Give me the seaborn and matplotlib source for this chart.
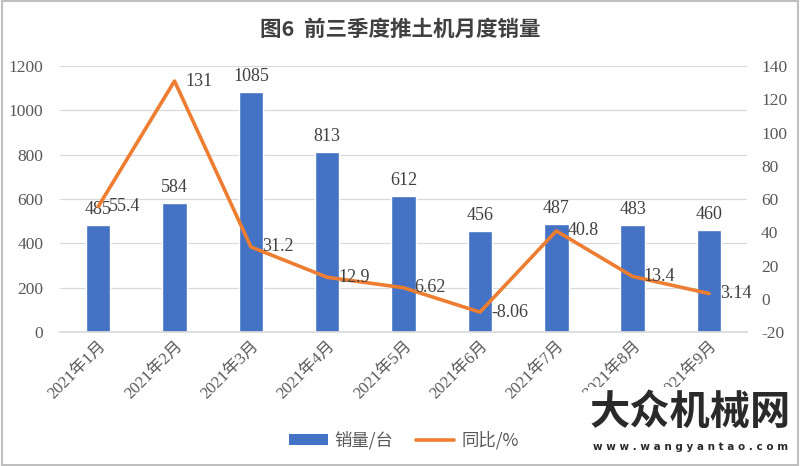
import numpy as np
import pandas as pd
import matplotlib
matplotlib.use("Agg")
import matplotlib.pyplot as plt
from matplotlib.patches import Rectangle, Patch
from matplotlib.lines import Line2D
import seaborn as sns

# ---- data ----
months = ["2021年1月", "2021年2月", "2021年3月", "2021年4月", "2021年5月",
          "2021年6月", "2021年7月", "2021年8月", "2021年9月"]
sales = [485, 584, 1085, 813, 612, 456, 487, 483, 460]
yoy = [55.4, 131, 31.2, 12.9, 6.62, -8.06, 40.8, 13.4, 3.14]
yoy_text = ["55.4", "131", "31.2", "12.9", "6.62", "-8.06", "40.8", "13.4", "3.14"]

BLUE = "#4472C4"
ORANGE = "#ED7D31"
GRAY = "#595959"

sns.set_theme(style="white")
plt.rcParams["font.family"] = ["Liberation Serif", "Noto Sans CJK SC", "DejaVu Sans"]
plt.rcParams["axes.unicode_minus"] = False

df = pd.DataFrame({"month": months, "sales": sales, "yoy": yoy, "pos": np.arange(len(months))})

fig = plt.figure(figsize=(8, 4.66), dpi=100)
ax = fig.add_axes([0.075, 0.2876, 0.859, 0.5706])

# bars: monthly sales (left axis)
sns.barplot(data=df, x="month", y="sales", color=BLUE, width=0.32,
            saturation=1, ax=ax)
ax.set_ylim(0, 1200)
ax.set_yticks(range(0, 1201, 200))
ax.set_xlim(-0.5, len(months) - 0.5)
ax.yaxis.grid(True, color="#d9d9d9", lw=0.9)
ax.set_axisbelow(True)
for s in ax.spines.values():
    s.set_visible(False)
ax.spines["bottom"].set_visible(True)
ax.spines["bottom"].set_color("#d9d9d9")
ax.set_xlabel("")
ax.set_ylabel("")
ax.tick_params(axis="y", length=0, labelsize=12.5, labelcolor=GRAY, pad=12)
ax.tick_params(axis="x", length=0, labelsize=12, labelcolor=GRAY, pad=4)
plt.setp(ax.get_xticklabels(), rotation=45, ha="right", rotation_mode="anchor")

for i, v in enumerate(sales):
    ax.annotate(str(v), (i, v), xytext=(0, 5), textcoords="offset points",
                ha="center", va="bottom", fontsize=13, color="#404040")

# line: year-on-year change (right axis)
ax2 = ax.twinx()
sns.lineplot(data=df, x="pos", y="yoy", color=ORANGE, lw=2.6, ax=ax2)
ax2.set_ylim(-20, 140)
ax2.set_yticks(range(-20, 141, 20))
ax2.set_xlim(-0.5, len(months) - 0.5)
for s in ax2.spines.values():
    s.set_visible(False)
ax2.set_ylabel("")
ax2.tick_params(axis="y", length=0, labelsize=12.5, labelcolor=GRAY, pad=10)

for i, t in enumerate(yoy_text):
    ax2.annotate(t, (i, yoy[i]), xytext=(8, 0), textcoords="offset points",
                 ha="left", va="center", fontsize=13, color="#404040")

fig.text(0.5, 0.936, "图6  前三季度推土机月度销量", ha="center", va="center",
         fontsize=15.5, fontweight="bold", color="#404040",
         family=["Noto Sans CJK SC", "DejaVu Sans"])

handles = [Patch(facecolor=BLUE, edgecolor="none"),
           Line2D([0], [0], color=ORANGE, lw=2.6)]
leg = fig.legend(handles, ["销量/台", "同比/%"], loc="center",
                 bbox_to_anchor=(0.505, 0.055), ncol=2, frameon=False,
                 fontsize=12.5, handlelength=2.2, handleheight=0.6,
                 handletextpad=0.4, columnspacing=1.3)
for t in leg.get_texts():
    t.set_color(GRAY)
    t.set_family(["Noto Sans CJK SC", "DejaVu Sans"])

# watermark
fig.patches.append(Rectangle((0.735, 0.0), 0.265, 0.17, transform=fig.transFigure,
                             facecolor="white", edgecolor="none", zorder=5))
fig.text(0.863, 0.115, "大众机械网", ha="center", va="center", fontsize=29,
         fontweight="black", color="#2a2a2a", family=["Noto Sans CJK SC"], zorder=6)
fig.text(0.863, 0.04, "w w w . w a n g y a n t a o . c o m", ha="center", va="center",
         fontsize=7.5, fontweight="bold", color="#2a2a2a", family=["DejaVu Sans"], zorder=6)

# outer frame
fig.patches.append(Rectangle((0.002, 0.003), 0.996, 0.994, transform=fig.transFigure,
                             facecolor="none", edgecolor="#bfbfbf", lw=1.5, zorder=7))

fig.savefig("out.png", dpi=100)
